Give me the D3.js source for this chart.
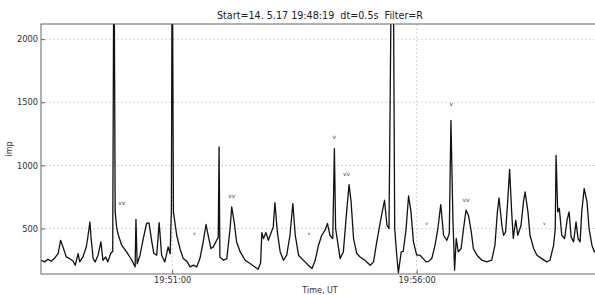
<!DOCTYPE html>
<html><head><meta charset="utf-8">
<script src="https://cdn.jsdelivr.net/npm/d3@7"></script>
<style>
body{margin:0;background:#fff;}
text{font-family:"DejaVu Sans",sans-serif;}
</style></head>
<body><svg id="c" width="595" height="295"></svg>
<script>
// seconds after start (19:48:19), dt = 0.5 s
const tSec = [0,4.5,8.5,12.5,17,21,24,27,31,35,39.5,42,45.5,47.5,51.5,55.5,57.5,60,61.5,64,66.5,70,73.5,76,79.5,82,85.5,88,89.5,91,93,95,99,105,111.5,115.5,116.5,118,121.5,125.5,129.5,132.5,136,138.5,142,145,148,152,156,158.5,160,161,162.5,166.5,170.5,174.5,179,183,187,191,195,199,202.5,205.5,208.5,211.5,215.5,217.5,218.5,219.5,224,228,232,234,237,240,244.5,250.5,256.5,262.5,266.5,269.5,271,273,276,279,282,285,287,290,293.5,297.5,301.5,305.5,309,312,316,320,324,328,332.5,336.5,340.5,344.5,348.5,351.5,354.5,358,360,361.5,364,367,371,375,378,380.5,383.5,387.5,391.5,397.5,404,408,412,417.5,421.5,424.5,427,430.5,431,431.5,432,434,436.5,438.5,442,444.5,448,451,454,457,461,465,469,472.5,475.5,479.5,483.5,487,490.5,494,498,501,503,505.5,507.5,509.5,512,515.5,518.5,521.5,524.5,528,530.5,535,541,547,553,557,560,562,565.5,567.5,570,572.5,575,577.5,579.5,582.5,585,589,592,594,597.5,600,604.5,608.5,614.5,620.5,624.5,629,631,632,634,636,639,642.5,645.5,648,650.5,653.5,656.5,659,661.5,663.5,666.5,670,672.5,676,679,681];
const imp = [249,236,257,241,267,302,407,354,275,262,241,209,302,236,275,354,433,552,421,262,236,289,394,249,275,236,302,320,3000,632,500,447,368,315,249,196,573,220,289,421,540,545,394,302,289,547,289,236,354,300,658,3000,632,447,342,262,240,196,210,196,262,394,532,434,342,355,407,430,1146,275,249,262,500,671,552,394,315,249,223,196,178,230,468,420,468,407,460,513,706,473,315,249,289,447,698,447,289,262,236,209,183,249,368,447,487,540,447,420,1133,500,394,262,315,632,848,711,421,302,275,249,209,236,394,592,724,526,500,3000,2200,3000,3000,500,289,150,315,320,500,758,632,394,289,289,262,236,240,262,368,500,690,447,407,460,1357,560,170,421,315,342,500,645,605,473,342,289,249,236,249,368,632,742,526,447,470,700,969,632,421,566,447,526,711,790,632,447,342,289,262,236,249,368,500,1080,632,660,447,421,566,632,434,394,552,420,394,632,817,711,500,368,315,330];
const yTicks = [500,1000,1500,2000];
const xTickSec = [161,461];
const xTickLabels = ["19:51:00","19:56:00"];
const title = "Start=14. 5.17 19:48:19  dt=0.5s  Filter=R";
// annotation marks: [seconds, imp level, label]
const markSec = [99,234,188,375,360,503.5,521.5,329,473,617.5];
const markImp = [690,740,450,920,1210,1470,710,450,530,530];
const markLab = ["vv","vv","v","vv","v","v","vv","v","v","v"];
const markSmall = [false,false,true,false,false,false,false,true,true,true];

const svg = d3.select("#c");
const L=41, R=596, T=24, B=274;
const x = d3.scaleLinear().domain([0,681]).range([L,R]);
const y = d3.scaleLinear().domain([140,2120]).range([B,T]);

svg.append("defs").append("clipPath").attr("id","cp").append("rect")
  .attr("x",L).attr("y",T).attr("width",R-L).attr("height",B-T);

// grid
svg.append("g").selectAll("line").data(yTicks).join("line")
  .attr("x1",L).attr("x2",R).attr("y1",d=>y(d)).attr("y2",d=>y(d))
  .attr("stroke","#c8c8c8").attr("stroke-width",0.8).attr("stroke-dasharray","2,2");
svg.append("g").selectAll("line").data(xTickSec).join("line")
  .attr("y1",T).attr("y2",B).attr("x1",d=>x(d)).attr("x2",d=>x(d))
  .attr("stroke","#c8c8c8").attr("stroke-width",0.8).attr("stroke-dasharray","2,2");

// line
const line = d3.line().x((d,i)=>x(tSec[i])).y(d=>y(d));
svg.append("path").datum(imp).attr("clip-path","url(#cp)")
  .attr("d",line).attr("fill","none").attr("stroke","#111").attr("stroke-width",1.3)
  .attr("stroke-linejoin","round");

// marks
svg.append("g").selectAll("text").data(markLab).join("text")
  .attr("x",(d,i)=>x(markSec[i])).attr("y",(d,i)=>y(markImp[i]))
  .attr("text-anchor","middle").attr("font-size",(d,i)=>markSmall[i]?4.5:6)
  .attr("fill","#444").text(d=>d);

// frame
svg.append("rect").attr("x",L).attr("y",T).attr("width",R-L).attr("height",B-T)
  .attr("fill","none").attr("stroke","#666").attr("stroke-width",1);

// axes
const ya = d3.axisLeft(y).tickValues(yTicks).tickFormat(d3.format("d")).tickSize(-4).tickPadding(3);
const gy = svg.append("g").attr("transform",`translate(${L},0)`).call(ya);
gy.select(".domain").remove();
gy.selectAll("text").attr("font-size",8.3).attr("fill","#333").attr("font-family","DejaVu Sans");
gy.selectAll("line").attr("stroke","#666");

const xa = d3.axisBottom(x).tickValues(xTickSec).tickFormat((d,i)=>xTickLabels[i]).tickSize(-4).tickPadding(3);
const gx = svg.append("g").attr("transform",`translate(0,${B})`).call(xa);
gx.select(".domain").remove();
gx.selectAll("text").attr("font-size",8.3).attr("fill","#333").attr("font-family","DejaVu Sans");
gx.selectAll("line").attr("stroke","#666");

svg.append("text").attr("x",320).attr("y",19).attr("text-anchor","middle")
  .attr("font-size",9.6).attr("fill","#222").style("white-space","pre").text(title);
svg.append("text").attr("x",320).attr("y",293).attr("text-anchor","middle")
  .attr("font-size",8).attr("fill","#333").text("Time, UT");
svg.append("text").attr("transform","translate(12,149) rotate(-90)").attr("text-anchor","middle")
  .attr("font-size",8).attr("fill","#333").text("imp");
</script></body></html>
